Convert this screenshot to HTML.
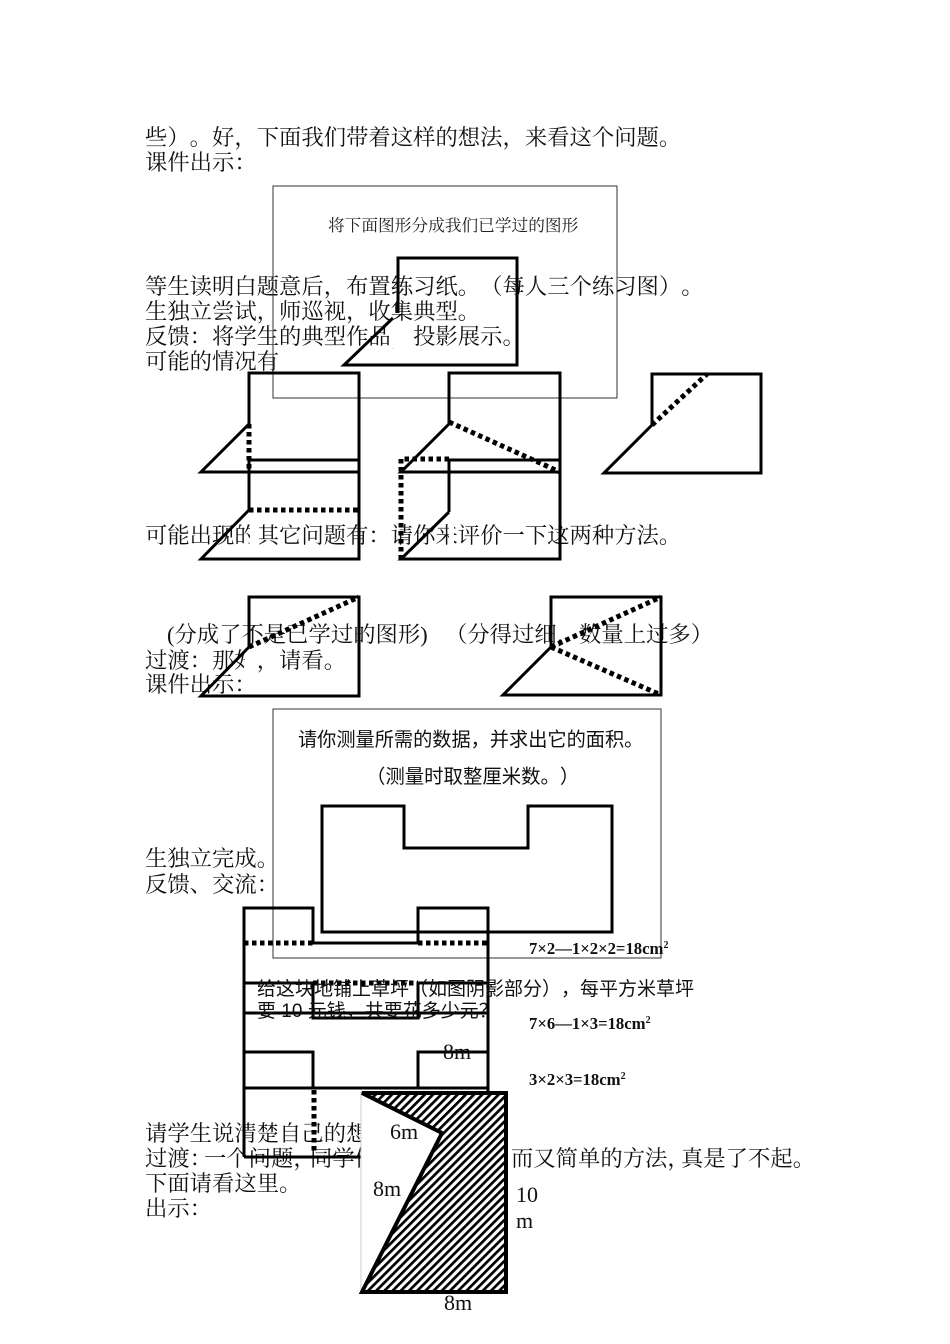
<!DOCTYPE html>
<html><head><meta charset="utf-8"><style>
html,body{margin:0;padding:0;background:#fff}
svg{display:block;text-spacing-trim:space-all;font-kerning:none}
text{text-spacing-trim:space-all;font-feature-settings:"palt" 0,"halt" 0,"chws" 0}
.t{font-family:"Liberation Serif","Noto Serif CJK SC",serif;font-size:22.35px;fill:#111}
.s{font-family:"Liberation Sans","Noto Sans CJK SC",sans-serif;fill:#111}
.f{font-family:"Liberation Serif",serif;font-weight:bold;font-size:16.7px;fill:#111}
.n{font-family:"Liberation Serif",serif;font-size:22px;fill:#111}
.l{fill:none;stroke:#000;stroke-width:3}
.d{fill:none;stroke:#000;stroke-width:5;stroke-dasharray:4.5 3.5}
.m{fill:none;stroke:#000;stroke-width:3}
</style></head><body>
<svg width="950" height="1344" viewBox="0 0 950 1344" xmlns="http://www.w3.org/2000/svg">
<defs><pattern id="h" width="5.8" height="5.8" patternUnits="userSpaceOnUse" patternTransform="rotate(-45)"><rect width="5.8" height="5.8" fill="#fff"/><rect width="5.8" height="2.7" fill="#000"/></pattern></defs>
<rect width="950" height="1344" fill="#fff"/>

<text class="t" x="145" y="145">些）。好，下面我们带着这样的想法，来看这个问题。</text>
<text class="t" x="145" y="170">课件出示：</text>
<text class="t" x="145" y="294">等生读明白题意后，布置练习纸。（每人三个练习图）。</text>
<text class="t" x="145" y="319">生独立尝试，师巡视，收集典型。</text>
<text class="t" x="145" y="344">反馈：将学生的典型作品，投影展示。</text>
<text class="t" x="145" y="369">可能的情况有</text>
<text class="t" x="145" y="543">可能出现的其它问题有：请你来评价一下这两种方法。</text>
<text class="t" x="167" y="642">(分成了不是已学过的图形)</text>
<text class="t" x="445" y="642">（分得过细，数量上过多）</text>
<text class="t" x="145" y="668">过渡：那好，请看。</text>
<text class="t" x="145" y="692">课件出示：</text>
<text class="t" x="145" y="866">生独立完成。</text>
<text class="t" x="145" y="892">反馈、交流：</text>
<text class="t" x="145" y="1141">请学生说清楚自己的想法。</text>
<text class="t" x="145" y="1166">过渡：</text><text class="t" x="204" y="1166">一个问题，</text><text class="t" x="310" y="1166">同学们想出了这么多</text>

<rect x="250" y="522" width="9" height="26" fill="#fff"/>
<rect x="449" y="522" width="5" height="26" fill="#fff"/>
<rect x="389" y="332" width="9" height="16" fill="#fff"/>
<rect x="245" y="650" width="12" height="22" fill="#fff"/>

<rect x="273" y="186" width="344" height="212" fill="none" stroke="#333" stroke-width="1"/>
<text x="328" y="231" style="font-family:'Liberation Serif','Noto Serif CJK SC',serif;font-size:16.7px;fill:#222">将下面图形分成我们已学过的图形</text>
<path class="l" d="M398 313V258H517V365H344L393 318"/>

<path class="l" d="M249 424V373H359V472H201L249 424"/><path class="d" d="M249 424V472"/>
<path class="l" d="M449 424V373H560V472H401L449 424"/><path class="d" d="M449 422L560 472"/>
<path class="l" d="M652 425V374H761V473H604L652 425"/><path class="d" d="M652 425L707 374"/>
<path class="l" d="M249 510V460H359V559H201L249 510"/><path class="d" d="M249 510H359"/>
<path class="l" d="M449 512V460H560V559H401L449 512"/><path class="d" d="M449 459H401V559"/>
<path class="l" d="M249 647V597H359V696H201L249 647"/><path class="d" d="M249 647L359 597"/>
<path class="l" d="M551 647V597H661V695H503L551 647"/><path class="d" d="M551 647L661 597M551 647L661 695"/>

<rect x="273" y="709" width="388" height="249" fill="none" stroke="#333" stroke-width="1"/>
<text class="s" x="298" y="746" font-size="19.2">请你测量所需的数据，并求出它的面积。</text>
<text class="s" x="366" y="783" font-size="19.4">（测量时取整厘米数。）</text>
<path class="m" d="M322 806H404V848H528V806H612V932H322Z"/>

<path class="m" d="M244 1157V908H313V943H418V908H488V1092"/>
<path class="d" d="M244 943H313M418 943H488"/>
<path class="m" d="M244 983H313V1018H418V983H488"/>
<path class="d" d="M313 983H418"/>
<path class="m" d="M244 1013H488"/>
<path class="m" d="M244 1052H313V1088H418V1052H488"/>
<path class="m" d="M244 1088H488"/>
<path class="d" d="M314 1090V1152"/>
<path class="m" d="M244 1157H365"/>

<text class="f" x="529" y="954">7×2—1×2×2=18cm<tspan font-size="10" dy="-6">2</tspan></text>
<text class="f" x="529" y="1029">7×6—1×3=18cm<tspan font-size="10" dy="-6">2</tspan></text>
<text class="f" x="529" y="1085">3×2×3=18cm<tspan font-size="10" dy="-6">2</tspan></text>

<text class="s" x="257" y="995" font-size="19">给这块地铺上草坪（如图阴影部分），每平方米草坪</text>
<text class="s" x="257" y="1017" font-size="19">要 10 元钱，共要花多少元？</text>
<text class="n" x="443" y="1059">8m</text>

<rect x="361" y="1092" width="151" height="202" fill="#fff"/>
<path d="M361 1092V1294" stroke="#ccc" stroke-width="1" fill="none"/>
<path d="M362 1093H506V1292H362L442 1133Z" fill="url(#h)" stroke="#000" stroke-width="4"/>
<text class="t" x="511" y="1166">而又简单的方法，</text><text class="t" x="681" y="1166">真是了不起。</text>
<text class="t" x="145" y="1191">下面请看这里。</text>
<text class="t" x="145" y="1216">出示：</text>
<text class="n" x="390" y="1139">6m</text>
<text class="n" x="373" y="1196">8m</text>
<text class="n" x="516" y="1202">10</text>
<text class="n" x="516" y="1228">m</text>
<text class="n" x="444" y="1310">8m</text>
</svg>
</body></html>
